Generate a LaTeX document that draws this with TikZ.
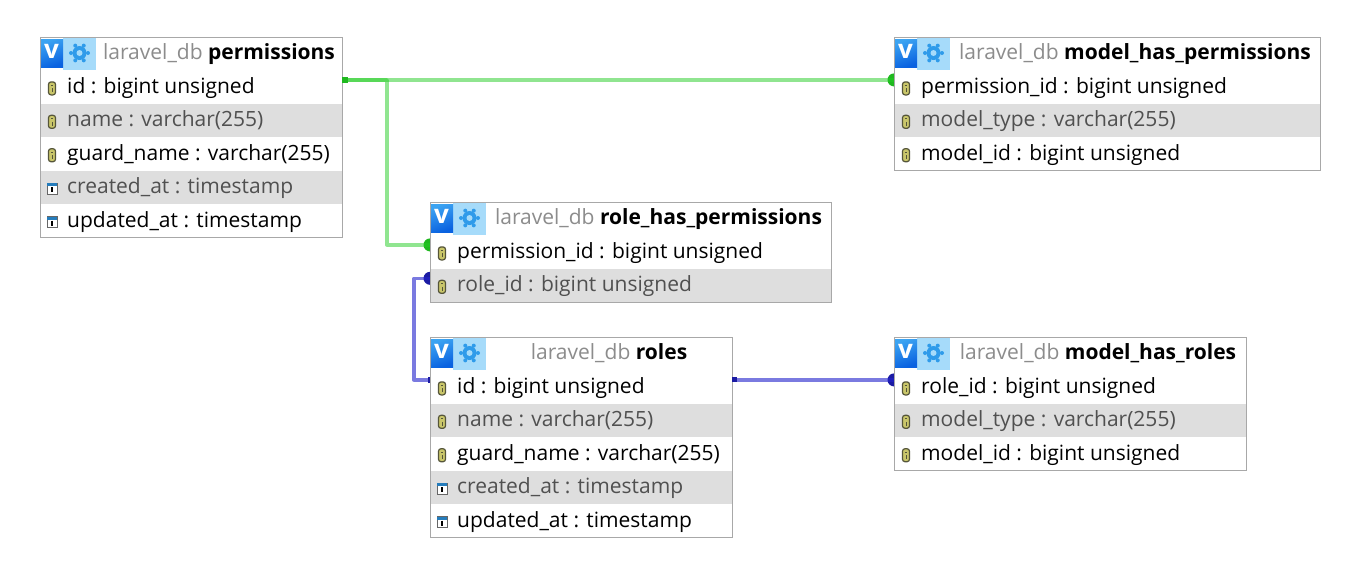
\documentclass[tikz,border=0pt]{standalone}
\usepackage{fontspec}
\setmainfont{Open Sans}
\usetikzlibrary{backgrounds}
\definecolor{bandgray}{HTML}{DEDEDE}
\definecolor{edgegray}{HTML}{A8A8A8}
\definecolor{dbgray}{HTML}{8C8C8C}
\definecolor{graytext}{HTML}{505050}
\definecolor{vblue}{HTML}{0A62E0}
\definecolor{vbluelight}{HTML}{3CA4F2}
\definecolor{paleblue}{HTML}{A6DBFA}
\definecolor{gearblue}{HTML}{2F9BEA}
\definecolor{keyfill}{HTML}{C9C66A}
\definecolor{keyedge}{HTML}{55553A}
\definecolor{linkgreen}{HTML}{22CC22}
\definecolor{linkblue}{HTML}{2222CC}
\tikzset{
  x=1pt,y=-1pt,
  tableframe/.style={draw=edgegray,line width=1pt,inner sep=0pt,outer sep=0pt,anchor=north west},
  rowband/.style={inner sep=0pt,outer sep=0pt,minimum height=33.4,anchor=north west},
  rowtext/.style={inner sep=0pt,anchor=base west,font=\fontsize{21}{24}\selectfont},
  titletext/.style={inner sep=0pt,anchor=base,font=\fontsize{21}{24}\selectfont},
  greenlink/.style={draw=linkgreen,line width=3.5pt,opacity=.5,line join=round},
  bluelink/.style={draw=linkblue,line width=3.5pt,opacity=.6,line join=round},
  greenend/.style={fill=linkgreen!90!black},
  blueend/.style={fill=linkblue!80!black},
}
\newcommand\keyicon{%
  \filldraw[fill=keyfill,draw=keyedge,line width=1.2pt,rounded corners=2.5pt] (-3.5,-6.5) rectangle (3.5,6.5);
  \draw[keyedge,line width=1pt] (-1.2,-3) -- (1.2,-3) (0,0) -- (0,4);
}
\newcommand\calicon{%
  \filldraw[fill=white,draw=gray!80!black,line width=1pt] (-5,-5.5) rectangle (5,5.5);
  \fill[gearblue!80!black] (-5,-5.5) rectangle (5,-2.5);
  \draw[black,line width=1.2pt] (0,-1.5) -- (0,3.5);
}
% #1 name, #2 x, #3 y, #4 width, #5 table title, #6 rows (icon/text), #7 row count
\newcommand\dbtable[7]{%
  \fill[white] (#2,#3) rectangle (#2+#4,#3+33.4);
  \fill[paleblue] (#2+23,#3) rectangle (#2+56,#3+33);
  \shade[top color=vbluelight,bottom color=vblue,shading angle=20] (#2+.5,#3+2) rectangle (#2+23,#3+30);
  \node[inner sep=0pt,text=white,font=\bfseries\fontsize{26}{26}\selectfont] (#1-v) at (#2+11.5,#3+14) {v};
  \fill[gearblue] (#2+39.5,#3+16) circle (7);
  \foreach \a in {0,60,...,300}{\fill[gearblue] (#2+39.5,#3+16) ++(\a:8.5) circle (2);}
  \fill[paleblue] (#2+39.5,#3+16) circle (3);
  \node[titletext] (#1-title) at ({#2+28+#4/2},#3+22) {\textcolor{dbgray}{laravel\_db} \textbf{#5}};
  \foreach \ic/\tx [count=\i] in {#6}{%
    \pgfmathsetmacro\rowtop{#3+33.4*\i}
    \pgfmathtruncatemacro\rowodd{mod(\i,2)}
    \ifnum\rowodd=0
      \node[rowband,fill=bandgray,minimum width=#4] (#1-r\i) at (#2,\rowtop) {};
      \node[rowtext,text=graytext] (#1-t\i) at (#2+27,\rowtop+23) {\tx};
    \else
      \node[rowband,fill=white,minimum width=#4] (#1-r\i) at (#2,\rowtop) {};
      \node[rowtext,text=black] (#1-t\i) at (#2+27,\rowtop+23) {\tx};
    \fi
    \begin{scope}[shift={(#2+12,\rowtop+18)}]
      \if k\ic \keyicon\else \calicon\fi
    \end{scope}
    \coordinate (#1-w\i) at (#2,\rowtop+9.5);
    \coordinate (#1-e\i) at (#2+#4,\rowtop+9.5);
  }
  \node[tableframe,minimum width=#4,minimum height=33.4*(#7+1)] (#1) at (#2,#3) {};
}
\begin{document}
\begin{tikzpicture}
\useasboundingbox (0,0) rectangle (1366,574);
\dbtable{permissions}{40}{37}{302}{permissions}{k/{id : bigint unsigned},k/{name : varchar(255)},k/{guard\_name : varchar(255)},c/{created\_at : timestamp},c/{updated\_at : timestamp}}{5}
\dbtable{mhp}{894}{37}{426}{model\_has\_permissions}{k/{permission\_id : bigint unsigned},k/{model\_type : varchar(255)},k/{model\_id : bigint unsigned}}{3}
\dbtable{rhp}{430}{202}{401}{role\_has\_permissions}{k/{permission\_id : bigint unsigned},k/{role\_id : bigint unsigned}}{2}
\dbtable{roles}{430}{337}{302}{roles}{k/{id : bigint unsigned},k/{name : varchar(255)},k/{guard\_name : varchar(255)},c/{created\_at : timestamp},c/{updated\_at : timestamp}}{5}
\dbtable{mhr}{894}{337}{352}{model\_has\_roles}{k/{role\_id : bigint unsigned},k/{model\_type : varchar(255)},k/{model\_id : bigint unsigned}}{3}
\begin{scope}[on background layer]
  \fill[white] (0,0) rectangle (1366,574);
  \fill[greenend] (mhp-w1) circle (6.5);
  \fill[greenend] (rhp-w1) circle (6.5);
  \fill[blueend] (rhp-w2) circle (6.5);
  \fill[blueend] (mhr-w1) circle (6.5);
  \draw[greenlink] (permissions-e1) -- (mhp-w1);
  \draw[greenlink] (permissions-e1) -| ([xshift=45]permissions-e1) |- (rhp-w1);
  \draw[bluelink] (roles-e1) -- (mhr-w1);
  \draw[bluelink] (roles-w1) -- ([xshift=-16]roles-w1) |- (rhp-w2);
\end{scope}
\fill[greenend] ([yshift=-3]permissions-e1) rectangle ([xshift=6,yshift=3]permissions-e1);
\fill[blueend] ([yshift=-2.5]roles-e1) rectangle ([xshift=5,yshift=2.5]roles-e1);
\fill[blueend] ([xshift=-2,yshift=-3]roles-w1) rectangle ([yshift=3]roles-w1);
\end{tikzpicture}
\end{document}
